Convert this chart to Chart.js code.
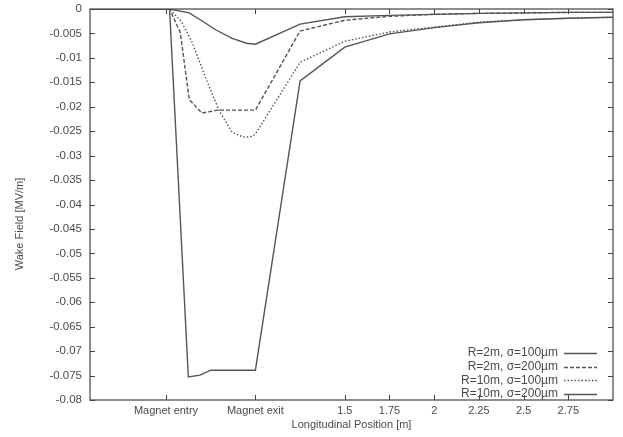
<!DOCTYPE html>
<html>
<head>
<meta charset="utf-8">
<script src="https://cdn.jsdelivr.net/npm/chart.js@4/dist/chart.umd.min.js"></script>
<style>
  body { margin: 0; background: #fff; }
  canvas { display: block; }
</style>
</head>
<body>
<canvas id="wakeChart" width="623" height="437"></canvas>
<script>
// wake field along the beam line, four bend radius / bunch length cases

const labelsBySeries = [
    'R=2m, σ=100µm',
    'R=2m, σ=200µm',
    'R=10m, σ=100µm',
    'R=10m, σ=200µm'
]

// R=2m, sigma=100um
const posR2s100 = [0.075, 0.52, 0.625, 0.69, 0.75, 1.0, 1.25, 1.5, 1.75, 2.0, 2.25, 2.5, 2.75, 3.0]
const wakeR2s100 = [0, 0, -0.0753, -0.0749, -0.0739, -0.0739, -0.0147, -0.0078, -0.0051, -0.0038, -0.0028, -0.0022, -0.0019, -0.0017]

// R=2m, sigma=200um
const posR2s200 = [0.075, 0.52, 0.58, 0.63, 0.70, 0.79, 1.0, 1.25, 1.5, 1.75, 2.0, 2.25, 2.5, 2.75, 3.0]
const wakeR2s200 = [0, 0, -0.0048, -0.0185, -0.0213, -0.0207, -0.0207, -0.0045, -0.0023, -0.0015, -0.0011, -0.0009, -0.0008, -0.0007, -0.0007]

// R=10m, sigma=100um
const posR10s100 = [0.075, 0.52, 0.585, 0.646, 0.725, 0.80, 0.87, 0.93, 0.97, 1.0, 1.25, 1.5, 1.75, 2.0, 2.25, 2.5, 2.75, 3.0]
const wakeR10s100 = [0, 0, -0.0025, -0.0068, -0.0144, -0.0210, -0.0252, -0.0262, -0.0262, -0.0256, -0.0109, -0.0066, -0.0047, -0.0037, -0.0027, -0.0022, -0.0019, -0.0017]

// R=10m, sigma=200um
const posR10s200 = [0.075, 0.52, 0.63, 0.70, 0.78, 0.87, 0.95, 1.0, 1.25, 1.5, 1.75, 2.0, 2.25, 2.5, 2.75, 3.0]
const wakeR10s200 = [0, 0, -0.0008, -0.0024, -0.0043, -0.0060, -0.0070, -0.0072, -0.0031, -0.0016, -0.0013, -0.0011, -0.0009, -0.0008, -0.0007, -0.0007]

const posTicks = [0.5, 1.0, 1.5, 1.75, 2.0, 2.25, 2.5, 2.75]
const posTickLabels = ['Magnet entry', 'Magnet exit', '1.5', '1.75', '2', '2.25', '2.5', '2.75']

const lineColor = '#555555'
const textColor = '#4a4a4a'
const fontFamily = '"Liberation Sans", Arial, sans-serif'

const toPoints = (xs, ys) => xs.map((x, i) => ({ x: x, y: ys[i] }))

const makeSet = (label, xs, ys, dash) => ({
    label: label,
    data: toPoints(xs, ys),
    borderColor: lineColor,
    borderWidth: 1.4,
    borderDash: dash,
    pointRadius: 0,
    tension: 0,
    fill: false
})

const data = {
    datasets: [
        makeSet(labelsBySeries[0], posR2s100, wakeR2s100, []),
        makeSet(labelsBySeries[1], posR2s200, wakeR2s200, [4, 2]),
        makeSet(labelsBySeries[2], posR10s100, wakeR10s100, [1.5, 2]),
        makeSet(labelsBySeries[3], posR10s200, wakeR10s200, [])
    ]
};

// box, inward ticks on all four sides, y title and the key in the lower right
const framePlugin = {
    id: 'frame',
    afterDraw(chart) {
        const { ctx, chartArea: a, scales } = chart;
        ctx.save();
        ctx.strokeStyle = '#444';
        ctx.lineWidth = 1.2;
        ctx.strokeRect(a.left, a.top, a.right - a.left, a.bottom - a.top);

        ctx.lineWidth = 1;
        ctx.beginPath();
        scales.x.ticks.forEach(t => {
            const px = Math.round(scales.x.getPixelForValue(t.value)) + 0.5;
            ctx.moveTo(px, a.bottom); ctx.lineTo(px, a.bottom - 5);
            ctx.moveTo(px, a.top); ctx.lineTo(px, a.top + 5);
        });
        scales.y.ticks.forEach(t => {
            const py = Math.round(scales.y.getPixelForValue(t.value)) + 0.5;
            ctx.moveTo(a.left, py); ctx.lineTo(a.left + 5, py);
            ctx.moveTo(a.right, py); ctx.lineTo(a.right - 5, py);
        });
        ctx.stroke();

        ctx.fillStyle = textColor;
        ctx.font = '11px ' + fontFamily;
        ctx.textAlign = 'center';
        ctx.textBaseline = 'middle';
        ctx.save();
        ctx.translate(20, 224);
        ctx.rotate(-Math.PI / 2);
        ctx.fillText('Wake Field [MV/m]', 0, 0);
        ctx.restore();

        ctx.font = '12px ' + fontFamily;
        ctx.textAlign = 'right';
        chart.data.datasets.forEach((ds, i) => {
            const y = 353 + i * 13.6;
            ctx.fillText(ds.label, 558, y);
            ctx.beginPath();
            ctx.setLineDash(ds.borderDash);
            ctx.strokeStyle = ds.borderColor;
            ctx.lineWidth = ds.borderWidth;
            ctx.moveTo(564, Math.round(y) + 0.5);
            ctx.lineTo(597, Math.round(y) + 0.5);
            ctx.stroke();
        });
        ctx.restore();
    }
};

const ctx = document.getElementById('wakeChart');
new Chart(ctx, {
    type: 'line',
    data: data,
    plugins: [framePlugin],
    options: {
        responsive: false,
        animation: false,
        devicePixelRatio: 1,
        layout: { padding: { top: 9, right: 10, left: 0, bottom: 0 } },
        plugins: {
            legend: { display: false },
            tooltip: { enabled: false }
        },
        scales: {
            x: {
                type: 'linear',
                min: 0.075,
                max: 3.0,
                afterBuildTicks: scale => { scale.ticks = posTicks.map(v => ({ value: v })); },
                afterFit: scale => { scale.height = 37; },
                grid: { display: false, drawTicks: false },
                border: { display: false },
                ticks: {
                    autoSkip: false,
                    maxRotation: 0,
                    padding: 4,
                    color: textColor,
                    font: { family: fontFamily, size: 11 },
                    callback: v => {
                        const i = posTicks.indexOf(v);
                        return i < 0 ? '' : posTickLabels[i];
                    }
                },
                title: {
                    display: true,
                    text: 'Longitudinal Position [m]',
                    color: textColor,
                    font: { family: fontFamily, size: 11 },
                    padding: { top: 0, bottom: 5 }
                }
            },
            y: {
                min: -0.08,
                max: 0,
                afterFit: scale => {
                    scale.width = 90;
                    scale.paddingTop = 0;
                    scale.paddingBottom = 0;
                },
                grid: { display: false, drawTicks: false },
                border: { display: false },
                ticks: {
                    stepSize: 0.005,
                    padding: 8,
                    color: textColor,
                    font: { family: fontFamily, size: 11.5 },
                    callback: v => String(Number(v.toFixed(3)))
                }
            }
        }
    }
});
</script>
</body>
</html>
